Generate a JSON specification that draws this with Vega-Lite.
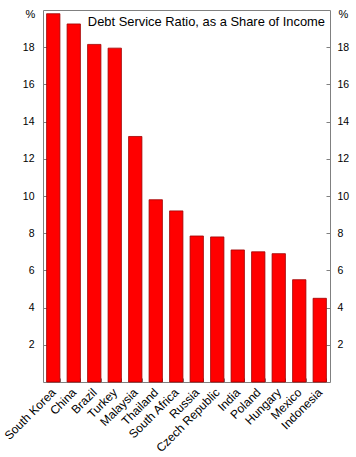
{
  "$schema": "https://vega.github.io/schema/vega-lite/v6.json",
  "width": 287,
  "height": 372,
  "autosize": "none",
  "padding": {"left": 43, "top": 10, "right": 26, "bottom": 75},
  "config": {
    "font": "Liberation Sans",
    "view": {"stroke": "#808080", "strokeWidth": 1},
    "axis": {"domain": false, "grid": false, "labelColor": "#000000", "labelFontSize": 10.5, "tickColor": "#808080", "titleFontWeight": "normal", "titleColor": "#000000", "titleFontSize": 11}
  },
  "title": {"text": "Debt Service Ratio, as a Share of Income", "anchor": "end", "frame": "group", "offset": -21, "dx": -5, "fontSize": 12.9, "fontWeight": "normal", "color": "#000000"},
  "data": {
    "values": [
      {"country": "South Korea", "value": 19.8},
      {"country": "China", "value": 19.25},
      {"country": "Brazil", "value": 18.15},
      {"country": "Turkey", "value": 17.95},
      {"country": "Malaysia", "value": 13.2},
      {"country": "Thailand", "value": 9.8},
      {"country": "South Africa", "value": 9.2},
      {"country": "Russia", "value": 7.85},
      {"country": "Czech Republic", "value": 7.8},
      {"country": "India", "value": 7.1},
      {"country": "Poland", "value": 7.0},
      {"country": "Hungary", "value": 6.9},
      {"country": "Mexico", "value": 5.5},
      {"country": "Indonesia", "value": 4.5}
    ]
  },
  "encoding": {
    "x": {
      "field": "country", "type": "nominal", "sort": null,
      "scale": {"paddingInner": 0.35, "paddingOuter": 0.175},
      "axis": {"title": null, "labelAngle": -45, "labelAlign": "right", "labelBaseline": "middle", "labelFontSize": 12, "tickBand": "extent", "tickSize": -4, "labelPadding": 12}
    }
  },
  "layer": [
    {
      "mark": {"type": "bar", "fill": "#ff0000", "stroke": "#a00000", "strokeWidth": 0.8},
      "encoding": {
        "y": {"field": "value", "type": "quantitative", "scale": {"domain": [0, 20], "nice": false},
          "axis": {"orient": "left", "values": [2, 4, 6, 8, 10, 12, 14, 16, 18], "tickSize": -4, "labelPadding": 13, "title": "%", "titleAngle": 0, "titleX": -13, "titleY": 4, "titleAlign": "center", "titleBaseline": "middle"}}
      }
    },
    {
      "mark": {"type": "bar", "opacity": 0},
      "encoding": {
        "y": {"field": "value", "type": "quantitative", "scale": {"domain": [0, 20], "nice": false},
          "axis": {"orient": "right", "values": [2, 4, 6, 8, 10, 12, 14, 16, 18], "tickSize": -4, "labelPadding": 11, "title": "%", "titleAngle": 0, "titleX": 13, "titleY": 4, "titleAlign": "center", "titleBaseline": "middle"}}
      }
    }
  ],
  "resolve": {"axis": {"y": "independent"}}
}
